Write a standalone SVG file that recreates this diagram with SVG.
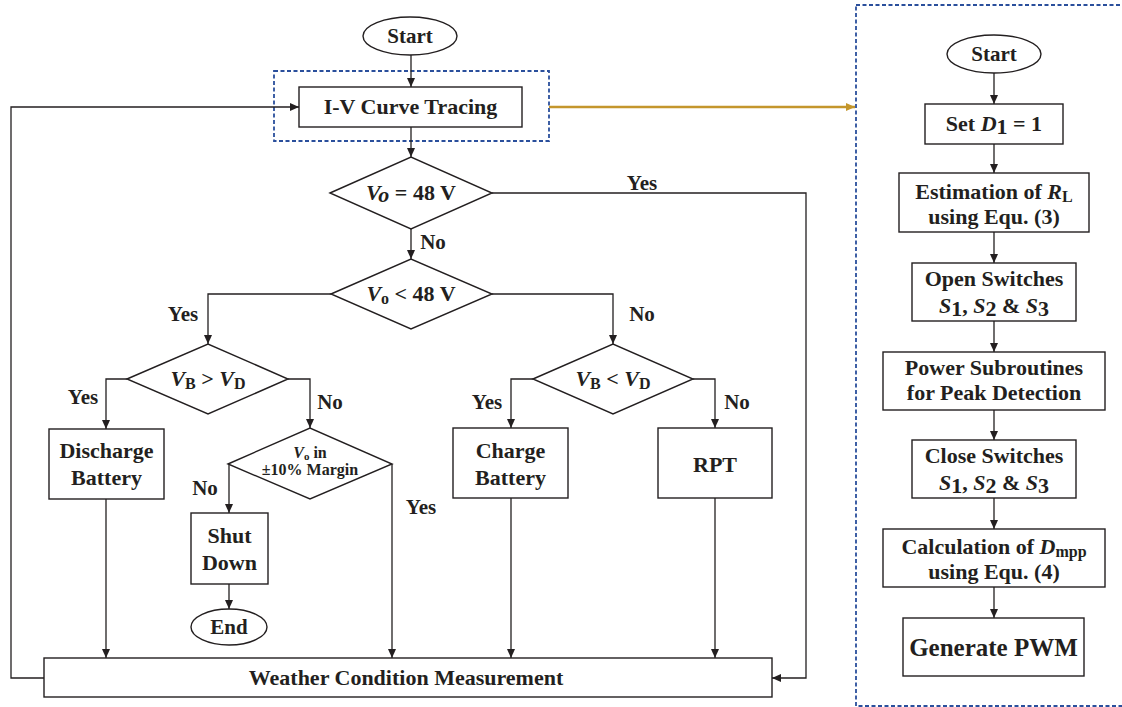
<svg xmlns="http://www.w3.org/2000/svg" width="1122" height="707" viewBox="0 0 1122 707">
<defs>
<marker id="ah" markerWidth="9" markerHeight="8" refX="9" refY="4" orient="auto" markerUnits="userSpaceOnUse"><path d="M0,0 L9,4 L0,8 z" fill="#231f20"/></marker>
<marker id="ahy" markerWidth="9" markerHeight="8" refX="9" refY="4" orient="auto" markerUnits="userSpaceOnUse"><path d="M0,0 L9,4 L0,8 z" fill="#c4962c"/></marker>
<style>
.n{fill:#fff;stroke:#231f20;stroke-width:1.4}
.t{font-weight:bold;font-size:22px;fill:#231f20;text-anchor:middle}
.l{font-size:21px}
.i{font-style:italic}
.c path{fill:none;stroke:#231f20;stroke-width:1.3;marker-end:url(#ah)}
.dash{fill:none;stroke:#2a4f9c;stroke-width:1.8;stroke-dasharray:4 2.5}
</style>
</defs>
<rect width="1122" height="707" fill="#fff"/>
<rect id="grp-iv" class="dash" x="274" y="71" width="275" height="70"/>
<rect id="grp-sub" class="dash" x="856" y="5" width="280" height="701"/>
<g class="c" id="connectors">
<path d="M411,55 V87"/>
<path d="M411,127 V157"/>
<path d="M411,229 V259"/>
<path d="M331,294 H208 V344"/>
<path d="M492,294 H613 V344"/>
<path d="M127,379 H106 V429"/>
<path d="M288,379 H310 V428"/>
<path d="M533,379 H511 V428"/>
<path d="M693,379 H715 V428"/>
<path d="M229,464 V513"/>
<path d="M392,464 V658"/>
<path d="M106,499 V658"/>
<path d="M229,584 V609"/>
<path d="M511,498 V658"/>
<path d="M715,498 V658"/>
<path d="M492,193 H806 V678 H772"/>
<path d="M44,678 H11 V107 H299"/>
<path d="M549,107 H855" style="stroke:#c4962c;stroke-width:2.5;marker-end:url(#ahy)"/>
<path d="M994,73 V104"/>
<path d="M994,144 V173"/>
<path d="M994,232 V263"/>
<path d="M994,321 V352"/>
<path d="M994,410 V440"/>
<path d="M994,498 V529"/>
<path d="M994,587 V618"/>
</g>
<g font-family="'Liberation Serif', 'Times New Roman', serif">
<g id="labels" class="t l">
<text x="642" y="190">Yes</text>
<text x="433" y="249">No</text>
<text x="183" y="321">Yes</text>
<text x="642" y="321">No</text>
<text x="83" y="404">Yes</text>
<text x="330" y="409">No</text>
<text x="487" y="409">Yes</text>
<text x="737" y="409">No</text>
<text x="205" y="495">No</text>
<text x="421" y="514">Yes</text>
</g>
<g id="start"><ellipse class="n" cx="410" cy="36" rx="47" ry="19"/><text class="t" x="410" y="43" style="font-size:21px">Start</text></g>
<g id="iv"><rect class="n" x="299" y="87" width="223" height="40"/><text class="t" x="410.5" y="114">I-V Curve Tracing</text></g>
<g id="d1"><polygon class="n" points="330,193 411,157 492,193 411,229"/><text class="t" x="411" y="200"><tspan class="i">V</tspan><tspan class="i" dy="2">o</tspan><tspan dy="-2"> = 48 V</tspan></text></g>
<g id="d2"><polygon class="n" points="331,294 411,259 492,294 411,329"/><text class="t" x="411" y="301"><tspan class="i">V</tspan><tspan font-size="16" dy="3">o</tspan><tspan dy="-3"> &lt; 48 V</tspan></text></g>
<g id="d3"><polygon class="n" points="127,379 208,344 288,379 208,414"/><text class="t" x="208" y="386"><tspan class="i">V</tspan><tspan font-size="16" dy="3">B</tspan><tspan dy="-3"> &gt; </tspan><tspan class="i">V</tspan><tspan font-size="16" dy="3">D</tspan></text></g>
<g id="d4"><polygon class="n" points="533,379 613,344 693,379 613,414"/><text class="t" x="613" y="386"><tspan class="i">V</tspan><tspan font-size="16" dy="3">B</tspan><tspan dy="-3"> &lt; </tspan><tspan class="i">V</tspan><tspan font-size="16" dy="3">D</tspan></text></g>
<g id="d5"><polygon class="n" points="228,464 310,428 392,464 310,499"/><text class="t" x="310" y="458" style="font-size:16px"><tspan class="i">V</tspan><tspan font-size="11" dy="2">o</tspan><tspan dy="-2"> in</tspan></text><text class="t" x="310" y="475" style="font-size:16px">±10% Margin</text></g>
<g id="discharge"><rect class="n" x="49" y="429" width="115" height="70"/><text class="t" x="106.5" y="458">Discharge</text><text class="t" x="106.5" y="485">Battery</text></g>
<g id="shutdown"><rect class="n" x="191" y="513" width="77" height="71"/><text class="t" x="229.5" y="543">Shut</text><text class="t" x="229.5" y="570">Down</text></g>
<g id="end"><ellipse class="n" cx="229" cy="627" rx="38" ry="18"/><text class="t" x="229" y="634" style="font-size:21px">End</text></g>
<g id="charge"><rect class="n" x="453" y="428" width="115" height="70"/><text class="t" x="510.5" y="458">Charge</text><text class="t" x="510.5" y="485">Battery</text></g>
<g id="rpt"><rect class="n" x="658" y="428" width="114" height="70"/><text class="t" x="715" y="472">RPT</text></g>
<g id="weather"><rect class="n" x="44" y="658" width="728" height="39"/><text class="t" x="406" y="685">Weather Condition Measurement</text></g>
<g id="r-start"><ellipse class="n" cx="994" cy="54" rx="47" ry="19"/><text class="t" x="994" y="61" style="font-size:21px">Start</text></g>
<g id="r-set"><rect class="n" x="925" y="104" width="138" height="40"/><text class="t" x="994" y="131">Set <tspan class="i">D</tspan><tspan dy="3">1</tspan><tspan dy="-3"> = 1</tspan></text></g>
<g id="r-est"><rect class="n" x="899" y="173" width="190" height="59"/><text class="t" x="994" y="199">Estimation of <tspan class="i">R</tspan><tspan font-size="16" dy="3">L</tspan></text><text class="t" x="994" y="224">using Equ. (3)</text></g>
<g id="r-open"><rect class="n" x="912" y="263" width="164" height="58"/><text class="t" x="994" y="286">Open Switches</text><text class="t" x="994" y="313"><tspan class="i">S</tspan><tspan dy="3">1</tspan><tspan dy="-3">, </tspan><tspan class="i">S</tspan><tspan dy="3">2</tspan><tspan dy="-3"> &amp; </tspan><tspan class="i">S</tspan><tspan dy="3">3</tspan></text></g>
<g id="r-power"><rect class="n" x="883" y="352" width="222" height="58"/><text class="t" x="994" y="375">Power Subroutines</text><text class="t" x="994" y="400">for Peak Detection</text></g>
<g id="r-close"><rect class="n" x="912" y="440" width="164" height="58"/><text class="t" x="994" y="463">Close Switches</text><text class="t" x="994" y="490"><tspan class="i">S</tspan><tspan dy="3">1</tspan><tspan dy="-3">, </tspan><tspan class="i">S</tspan><tspan dy="3">2</tspan><tspan dy="-3"> &amp; </tspan><tspan class="i">S</tspan><tspan dy="3">3</tspan></text></g>
<g id="r-calc"><rect class="n" x="883" y="529" width="222" height="58"/><text class="t" x="994" y="554">Calculation of <tspan class="i">D</tspan><tspan font-size="16" dy="3">mpp</tspan></text><text class="t" x="994" y="579">using Equ. (4)</text></g>
<g id="r-pwm"><rect class="n" x="903" y="618" width="181" height="58"/><text class="t" x="993.5" y="656" style="font-size:25px">Generate PWM</text></g>
</g>
</svg>
